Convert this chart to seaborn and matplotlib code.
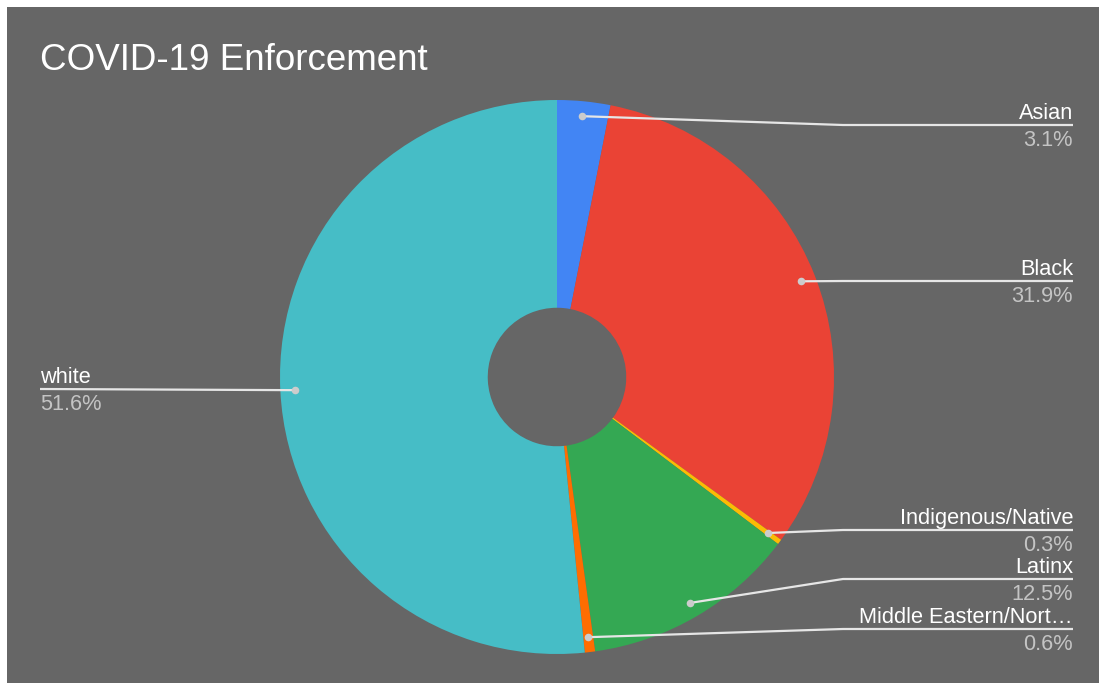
import numpy as np
import matplotlib
matplotlib.use("Agg")
import matplotlib.pyplot as plt
import seaborn as sns

sns.set_theme(style="white")
plt.rcParams['font.family'] = ['Liberation Sans', 'DejaVu Sans']

# ---- data ----
categories = ["Asian", "Black", "Indigenous/Native", "Latinx", "Middle Eastern/Nort\u2026", "white"]
values = [3.1, 31.9, 0.3, 12.5, 0.6, 51.6]
pct_labels = ["3.1%", "31.9%", "0.3%", "12.5%", "0.6%", "51.6%"]
colors = ["#4285F4", "#EA4335", "#FBBC04", "#34A853", "#FF6D01", "#46BDC6"]
title = "COVID-19 Enforcement"

# ---- layout (pixel coords, y measured from top) ----
W, H = 1099, 683
BG = "#666666"
cx, cy_top, R = 557, 377, 277
hole = 0.25
label_line_y = [125, 281, 530, 579, 629, 389]
label_side = ["r", "r", "r", "r", "r", "l"]
elbow_x_right = 843
text_x_right = 1073
text_x_left = 40

def fy(y):
    return H - y

fig = plt.figure(figsize=(W / 100, H / 100), dpi=100, facecolor="white")
ax = fig.add_axes([0, 0, 1, 1])
ax.set_xlim(0, W)
ax.set_ylim(0, H)
ax.set_aspect("equal")
ax.axis("off")

ax.add_patch(plt.Rectangle((7, 0), W - 7, H - 7, facecolor=BG, edgecolor="none", zorder=0))

wedges, _ = ax.pie(values, colors=colors, startangle=90, counterclock=False,
                   center=(cx, fy(cy_top)), radius=R,
                   wedgeprops=dict(width=R * (1 - hole), linewidth=0),
                   frame=True)
ax.set_xlim(0, W)
ax.set_ylim(0, H)
ax.axis("off")

total = sum(values)
cum = np.cumsum([0] + values[:-1])
for i, (name, pct) in enumerate(zip(categories, pct_labels)):
    frac = (cum[i] + values[i] / 2) / total
    ang = np.pi / 2 - 2 * np.pi * frac
    px = cx + 0.946 * R * np.cos(ang)
    py = fy(cy_top) + 0.946 * R * np.sin(ang)
    ly = fy(label_line_y[i])
    if label_side[i] == "r":
        xs = [px, elbow_x_right, text_x_right]
        ys = [py, ly, ly]
        tx, ha = text_x_right, "right"
    else:
        xs = [px, text_x_left]
        ys = [py, ly]
        tx, ha = text_x_left, "left"
    ax.plot(xs, ys, color="#e6e6e6", lw=1.6, zorder=5, solid_capstyle="butt")
    ax.scatter([px], [py], s=30, color="#cccccc", zorder=6, linewidths=0)
    ax.text(tx, ly + 6, name, ha=ha, va="baseline", color="white", fontsize=15.7, zorder=7)
    ax.text(tx, ly - 21, pct, ha=ha, va="baseline", color="#c4c4c4", fontsize=15.7, zorder=7)

ax.text(40, fy(70), title, ha="left", va="baseline", color="white", fontsize=26.5)

fig.savefig("out.png", dpi=100, facecolor=fig.get_facecolor())
